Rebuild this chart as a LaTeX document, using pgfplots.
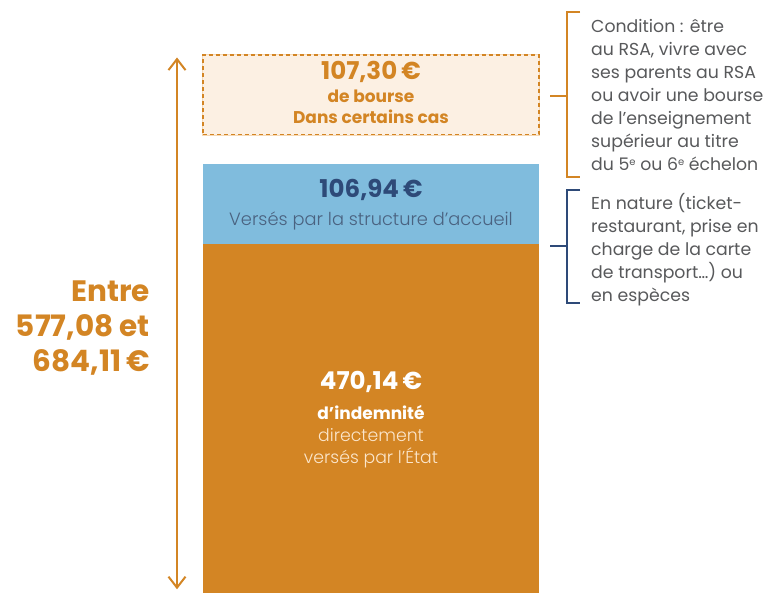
\documentclass[border=0pt]{standalone}
\usepackage{pgfplots}
\pgfplotsset{compat=1.18}
\usepackage{fontspec}
\setmainfont{Poppins}
\newfontfamily\lightfont{Poppins Light}
\usetikzlibrary{arrows.meta}
\definecolor{orng}{HTML}{D38524}
\definecolor{lblue}{HTML}{80BCDD}
\definecolor{dblue}{HTML}{2E4A78}
\definecolor{peach}{HTML}{FCF0E3}
\definecolor{peachline}{HTML}{F6D9B5}
\definecolor{txtgray}{HTML}{58595B}
\definecolor{bluegray}{HTML}{4A6280}
\definecolor{lightpeach}{HTML}{FBE6CC}
\newcommand{\bigfnt}{\fontsize{24.5}{28}\selectfont\bfseries}
\newcommand{\midfnt}{\fontsize{17}{20}\selectfont\bfseries}
\newcommand{\rtext}{\fontsize{17.3}{20}\selectfont}
\begin{document}
\begin{tikzpicture}
\path[use as bounding box] (0,0) rectangle (770pt,593pt);
\begin{axis}[at={(0,0)}, anchor=south west, scale only axis,
  width=770pt, height=593pt, xmin=0, xmax=770, ymin=0, ymax=798.4,
  hide axis, clip=false, ybar stacked, bar width=336]
\addplot[fill=orng, draw=none] coordinates {(371,470.14)};
\addplot[fill=lblue, draw=none] coordinates {(371,106.94)};
\addplot[fill=none, draw=none] coordinates {(371,40)};
\addplot[fill=peach, draw=orng, line width=1.6pt, dash pattern=on 4pt off 3pt,
  preaction={draw=peachline, line width=2.6pt, solid}] coordinates {(371,107.30)};
\coordinate (dc) at (axis cs:371,670.73);
\coordinate (bc) at (axis cs:371,523.61);
\coordinate (oc) at (axis cs:371,235.07);
\coordinate (abot) at (axis cs:177,5);
\coordinate (atop) at (axis cs:177,721);
\end{axis}
% arrow
\draw[orng, line width=2pt, {Straight Barb[length=11pt,width=17pt]}-{Straight Barb[length=11pt,width=17pt]}]
  (abot) -- (atop);
% dashed box labels
\node[text=orng, font=\bigfnt, yshift=23pt] at (dc) {107,30\,€};
\node[text=orng, font=\midfnt, yshift=-1pt] at (dc) {de bourse};
\node[text=orng, font=\midfnt, yshift=-22pt] at (dc) {Dans certains cas};
% blue labels
\node[text=dblue, font=\bigfnt, yshift=14pt] at (bc) {106,94\,€};
\node[text=bluegray, font=\fontsize{17.8}{20}\selectfont\lightfont, yshift=-17pt] at (bc) {Versés par la structure d’accueil};
% orange labels
\node[text=white, font=\bigfnt, yshift=36pt] at (oc) {470,14\,€};
\node[text=white, font=\midfnt, yshift=6pt] at (oc) {d’indemnité};
\node[text=lightpeach, font=\rtext\lightfont, yshift=-17pt] at (oc) {directement};
\node[text=lightpeach, font=\rtext\lightfont, yshift=-39pt] at (oc) {versés par l’État};
\begin{scope}[x=1pt, y=-1pt, yshift=593pt]
% left total
\node[anchor=base east, inner sep=0, text=orng, font=\fontsize{29.5}{30}\selectfont\bfseries] at (150,302) {Entre};
\node[anchor=base east, inner sep=0, text=orng, font=\fontsize{29.5}{30}\selectfont\bfseries] at (150,337) {577,08 et};
\node[anchor=base east, inner sep=0, text=orng, font=\fontsize{29.5}{30}\selectfont\bfseries] at (150,372) {684,11\,€};
% orange bracket
\draw[orng, line width=1.8pt] (580,12) -- (567,12) -- (567,177) -- (580,177);
\draw[orng, line width=1.8pt] (550,96) -- (567,96);
% blue bracket
\draw[dblue, line width=1.8pt] (580,190) -- (567,190) -- (567,303) -- (580,303);
\draw[dblue, line width=1.8pt] (550,246) -- (567,246);
\foreach \t/\y in {{Condition : être}/33, {au RSA, vivre avec}/56, {ses parents au RSA}/79, {ou avoir une bourse}/102, {de l’enseignement}/125, {supérieur au titre}/148, {du 5{\fontsize{10}{10}\selectfont\raisebox{5pt}{e}} ou 6{\fontsize{10}{10}\selectfont\raisebox{5pt}{e}} échelon}/171,
  {En nature (ticket-}/210, {restaurant, prise en}/233, {charge de la carte}/256, {de transport…) ou}/279, {en espèces}/302}
  \node[anchor=base west, inner sep=0, text=txtgray, font=\rtext] at (591,\y) {\t};
\end{scope}
\end{tikzpicture}
\end{document}
